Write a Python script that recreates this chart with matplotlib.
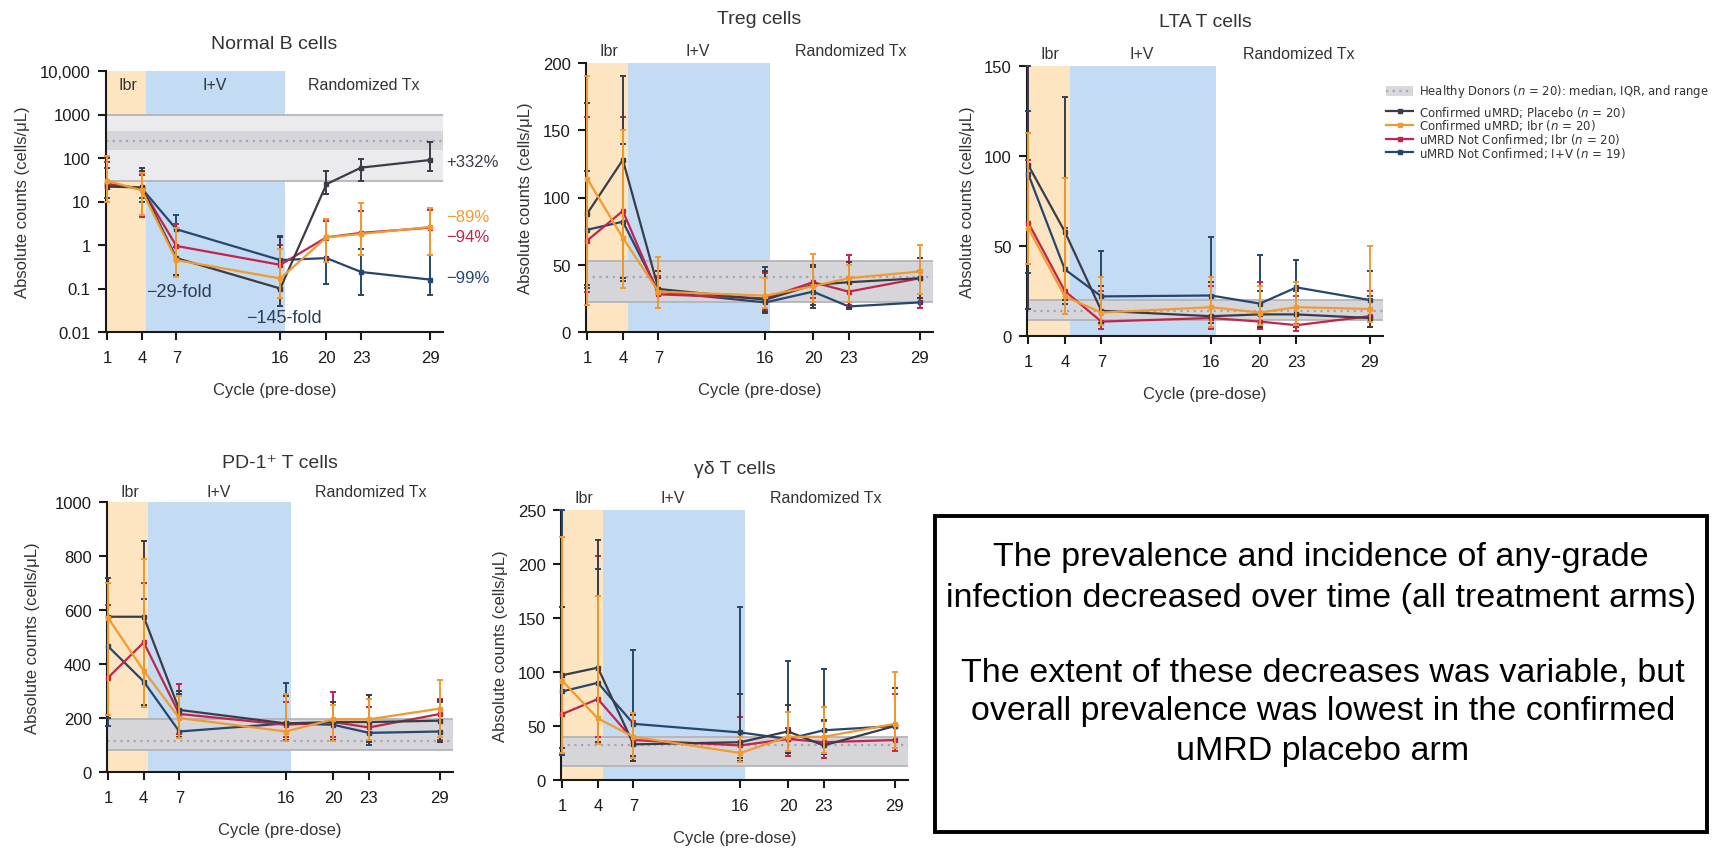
import numpy as np
import matplotlib
matplotlib.use('Agg')
import matplotlib.pyplot as plt
from matplotlib import font_manager
from matplotlib.lines import Line2D
from matplotlib.patches import Rectangle

W, H = 1714, 853

_names = {f.name for f in font_manager.fontManager.ttflist}
NARROW = 'Liberation Sans Narrow' if 'Liberation Sans Narrow' in _names else 'Liberation Sans'
plt.rcParams['font.family'] = ['Liberation Sans', 'DejaVu Sans']

# ---- data ----
cycles = [1, 4, 7, 16, 20, 23, 29]
series_names = ['Confirmed uMRD; Placebo ($n$ = 20)', 'Confirmed uMRD; Ibr ($n$ = 20)',
                'uMRD Not Confirmed; Ibr ($n$ = 20)', 'uMRD Not Confirmed; I+V ($n$ = 19)']
series_colors = ['#3a3c48', '#f39a2e', '#c2244c', '#25476f']

# rows: placebo, ibr, nc ibr, nc i+v
bcell_med = [[22, 21, 0.5, 0.1, 25, 60, 90],
             [30, 18, 0.45, 0.17, 1.5, 1.8, 2.6],
             [25, 20, 0.95, 0.35, 1.5, 1.9, 2.5],
             [25, 20, 2.3, 0.45, 0.5, 0.24, 0.16]]
bcell_lo = [[10, 12, 0.2, 0.04, 15, 30, 50],
            [10, 5, 0.18, 0.06, 0.4, 0.6, 0.6],
            [10, 4.5, 0.2, 0.1, 0.5, 0.6, 0.6],
            [12, 10, 0.9, 0.1, 0.13, 0.07, 0.07]]
bcell_hi = [[100, 60, 2.5, 1.5, 50, 95, 230],
            [110, 45, 2.5, 0.8, 4, 9, 7],
            [80, 40, 3, 1.0, 3.5, 6, 6.5],
            [60, 50, 5, 1.6, 1.3, 0.8, 0.6]]

treg_med = [[88, 128, 32, 24, 35, 37, 40],
            [114, 70, 30, 27, 34, 40, 45],
            [68, 90, 28, 25, 37, 30, 40],
            [76, 82, 30, 22, 30, 19, 22]]
treg_lo = [[35, 40, 18, 15, 20, 18, 25],
           [20, 33, 18, 18, 22, 22, 28],
           [30, 40, 18, 16, 25, 20, 18],
           [33, 38, 18, 14, 18, 17, 18]]
treg_hi = [[170, 190, 45, 45, 50, 52, 55],
           [190, 150, 56, 40, 58, 50, 65],
           [160, 160, 42, 44, 50, 57, 55],
           [120, 140, 40, 48, 48, 40, 45]]

lta_med = [[95, 58, 14, 11, 12, 12, 10],
           [60, 22, 13, 16, 13, 16, 15],
           [63, 25, 8, 10, 8, 6, 11],
           [90, 37, 22, 22.5, 18, 27, 20]]
lta_lo = [[15, 20, 7, 5, 5, 6, 5],
          [40, 12, 6, 5, 6, 6, 8],
          [15, 12, 4, 4, 4, 3, 5],
          [35, 18, 7, 7, 5, 5, 8]]
lta_hi = [[150, 133, 28, 30, 25, 25, 22],
          [113, 88, 33, 33, 28, 30, 50],
          [98, 60, 25, 28, 30, 22, 25],
          [125, 88, 47, 55, 45, 42, 36]]

pd1_med = [[575, 575, 230, 180, 185, 185, 190],
           [570, 375, 200, 150, 195, 195, 235],
           [350, 480, 215, 175, 185, 165, 215],
           [465, 335, 150, 180, 175, 145, 150]]
pd1_lo = [[200, 250, 130, 120, 120, 110, 110],
          [210, 240, 125, 115, 115, 120, 130],
          [210, 250, 140, 130, 130, 120, 120],
          [170, 240, 130, 115, 130, 100, 110]]
pd1_hi = [[720, 855, 300, 280, 260, 285, 265],
          [700, 790, 280, 290, 250, 270, 340],
          [620, 700, 325, 260, 295, 240, 270],
          [700, 640, 290, 330, 250, 285, 260]]

gd_med = [[97, 104, 33, 35, 45, 32, 50],
          [92, 57, 40, 25, 40, 40, 52],
          [61, 75, 37, 32, 38, 35, 37],
          [82, 90, 52, 44, 38, 46, 50]]
gd_lo = [[30, 35, 18, 18, 25, 25, 30],
         [25, 33, 20, 17, 27, 25, 30],
         [25, 40, 18, 18, 22, 20, 27],
         [23, 40, 22, 20, 25, 24, 30]]
gd_hi = [[160, 222, 60, 80, 69, 56, 85],
         [225, 170, 62, 40, 63, 68, 100],
         [160, 207, 55, 58, 48, 55, 80],
         [250, 195, 120, 160, 110, 103, 85]]

# healthy donors: range low/high, IQR low/high, median
hd_bcell = [30, 1000, 150, 420, 250]
hd_treg = [22, 53, 22, 53, 41]
hd_lta = [9, 20, 9, 20, 14]
hd_pd1 = [80, 195, 80, 195, 115]
hd_gd = [13, 40, 13, 40, 32]
hd_label = 'Healthy Donors ($n$ = 20): median, IQR, and range'

phase_names = ['Ibr', 'I+V', 'Randomized Tx']
bcell_change = ['+332%', '\u221289%', '\u221294%', '\u221299%']
bcell_change_y = [85, 4.6, 1.6, 0.18]
fold_text = ['\u221229-fold', '\u2212145-fold']

box_text1 = 'The prevalence and incidence of any-grade\ninfection decreased over time (all treatment arms)'
box_text2 = ('The extent of these decreases was variable, but\n'
             'overall prevalence was lowest in the confirmed\nuMRD placebo arm')


def rect(l, t, r, b):
    return [l / W, 1 - b / H, (r - l) / W, (b - t) / H]


fig = plt.figure(figsize=(W / 100, H / 100), dpi=100)

draw_order = [3, 2, 0, 1]


def panel(box, med, lo, hi, hd, title, title_y, phase_y, ylab_x, ylim, yticks, log=False, yticklabels=None):
    ax = fig.add_axes(rect(*box))
    ax.set_xlim(0.9, 30.1)
    ax.set_ylim(*ylim)
    if log:
        ax.set_yscale('log')
    # phases
    ax.axvspan(0.9, 4.4, color='#fce5c0', lw=0, zorder=0)
    ax.axvspan(4.4, 16.4, color='#c3dbf3', lw=0, zorder=0)
    # healthy donors
    ax.axhspan(hd[0], hd[1], color='#ebebee', lw=0, zorder=1)
    ax.axhspan(hd[2], hd[3], color='#d6d6da', lw=0, zorder=1)
    ax.axhline(hd[0], color='#b0b0b5', lw=1.2, zorder=1)
    ax.axhline(hd[1], color='#b0b0b5', lw=1.2, zorder=1)
    ax.axhline(hd[4], color='#a4a4b8', lw=1.6, ls=(0, (1, 2)), zorder=1)
    for k, i in enumerate(draw_order):
        m = np.array(med[i], float)
        err = [m - np.array(lo[i], float), np.array(hi[i], float) - m]
        ax.errorbar(cycles, m, yerr=err, color=series_colors[i], lw=1.6, elinewidth=1.4,
                    capsize=2.5, capthick=1.4, marker='s', ms=3.2, zorder=3 + k, clip_on=False)
    ax.set_xticks(cycles)
    ax.set_yticks(yticks)
    if yticklabels:
        ax.set_yticklabels(yticklabels)
    ax.minorticks_off()
    for s in ['top', 'right']:
        ax.spines[s].set_visible(False)
    for s in ['left', 'bottom']:
        ax.spines[s].set_linewidth(1.5)
        ax.spines[s].set_color('#1a1a1a')
    ax.tick_params(direction='out', length=6, width=1.5, labelsize=12, colors='#1a1a1a')
    ax.tick_params(axis='x', pad=7)
    ax.tick_params(axis='y', pad=5)
    ax.set_xlabel('Cycle (pre-dose)', fontsize=12, family=NARROW, labelpad=12, color='#333333')
    ax.set_ylabel('Absolute counts (cells/\u03bcL)', fontsize=12, family=NARROW, color='#333333')
    ax.yaxis.set_label_coords(ylab_x, 0.5)
    ax.text(0.5, title_y, title, transform=ax.transAxes, ha='center', va='center', fontsize=14,
            color='#333333', family=['Liberation Sans', 'DejaVu Sans'])
    for name, px in zip(phase_names, [2.8, 10.3, 23.2]):
        ax.text(px, phase_y, name, transform=ax.get_xaxis_transform(), ha='center', va='center',
                fontsize=11.5, family=NARROW, color='#333333')
    return ax


ax1 = panel((106, 72, 443, 333), bcell_med, bcell_lo, bcell_hi, hd_bcell, 'Normal B cells', 1.107, 0.95, -0.226,
            (0.01, 10000), [0.01, 0.1, 1, 10, 100, 1000, 10000], log=True,
            yticklabels=['0.01', '0.1', '1', '10', '100', '1000', '10,000'])
for txt, yv, c in zip(bcell_change, bcell_change_y, series_colors):
    ax1.text(30.4, yv, txt, color=c, fontsize=12, va='center', ha='left')
ax1.text(4.4, 0.084, fold_text[0], color='#2f3d55', fontsize=13, va='center', ha='left')
ax1.text(13.0, 0.021, fold_text[1], color='#2f3d55', fontsize=13, va='center', ha='left')

panel((586, 64, 933, 333), treg_med, treg_lo, treg_hi, hd_treg, 'Treg cells', 1.164, 1.045, -0.153,
      (0, 200), [0, 50, 100, 150, 200])
panel((1027, 67, 1383, 337), lta_med, lta_lo, lta_hi, hd_lta, 'LTA T cells', 1.163, 1.045, -0.146,
      (0, 150), [0, 50, 100, 150])
panel((107, 503, 453, 773), pd1_med, pd1_lo, pd1_hi, hd_pd1, 'PD-1\u207a T cells', 1.148, 1.04, -0.194,
      (0, 1000), [0, 200, 400, 600, 800, 1000])
panel((561, 511, 908, 781), gd_med, gd_lo, gd_hi, hd_gd, '\u03b3\u03b4 T cells', 1.152, 1.045, -0.153,
      (0, 250), [0, 50, 100, 150, 200, 250])

# legend, one row at a time (rows are tighter than fig.legend allows)
lx0, lx1, ltx = 1386 / W, 1413 / W, 1419 / W
LEG_FONT = ['DejaVu Sans']
y0 = 1 - 92 / H
fig.add_artist(Rectangle((lx0, y0 - 5 / H), lx1 - lx0, 10 / H, transform=fig.transFigure,
                         color='#d9d9dc', lw=0))
fig.add_artist(Line2D([lx0, lx1], [y0, y0], transform=fig.transFigure, color='#a4a4b8',
                      lw=1.6, ls=(0, (1, 2))))
fig.text(ltx, y0, hd_label, va='center', ha='left', fontsize=8.4, family=LEG_FONT, color='#333333')
for r, (name, c) in enumerate(zip(series_names, series_colors)):
    yy = 1 - (112 + 13.8 * r) / H
    fig.add_artist(Line2D([lx0, lx1], [yy, yy], transform=fig.transFigure, color=c, lw=1.6))
    fig.add_artist(Line2D([(lx0 + lx1) / 2], [yy], transform=fig.transFigure, color=c,
                          marker='s', ms=3))
    fig.text(ltx, yy, name, va='center', ha='left', fontsize=8.5, family=LEG_FONT, color='#333333')

# text box
fig.add_artist(Rectangle((935 / W, 1 - 833 / H), (1707 - 935) / W, (833 - 517) / H,
                         transform=fig.transFigure, fill=False, lw=2.8, ec='black'))
fig.text(1321 / W, 1 - 578 / H, box_text1, ha='center', va='center', fontsize=24.5, family=NARROW,
         linespacing=1.38)
fig.text(1323 / W, 1 - 712 / H, box_text2, ha='center', va='center', fontsize=24.5, family=NARROW,
         linespacing=1.35)

fig.savefig('out.png', dpi=100)
